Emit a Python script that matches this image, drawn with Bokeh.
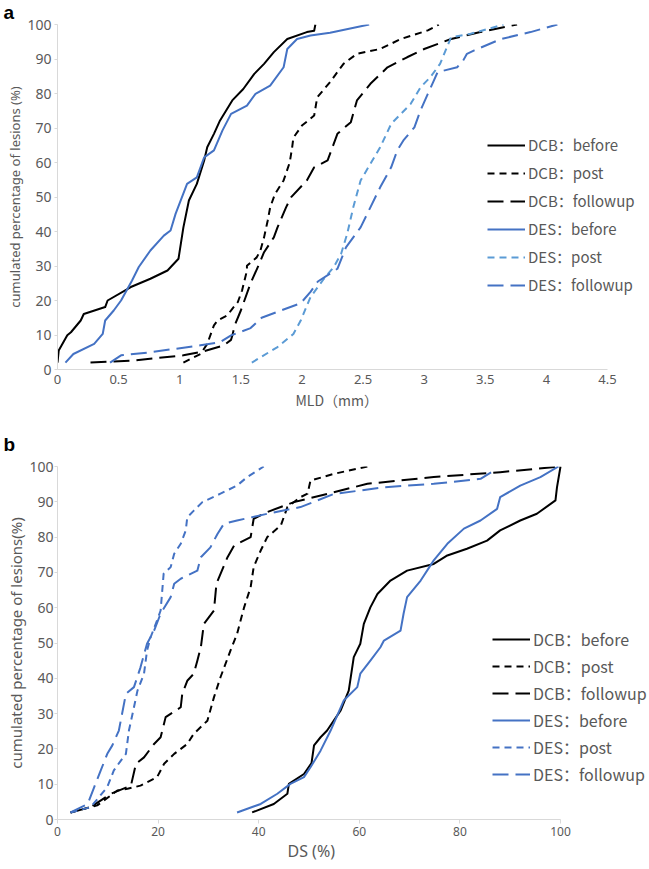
from bokeh.plotting import figure
from bokeh.models import Legend, LegendItem, FixedTicker, Range1d, Title
from bokeh.layouts import column
from bokeh.embed import file_html
from bokeh.resources import INLINE

# ---------------- data: panel a (MLD, mm) ----------------
A_X_TICKS = [0, 0.5, 1, 1.5, 2, 2.5, 3, 3.5, 4, 4.5]
A_X_TICK_LABELS = ["0", "0.5", "1", "1.5", "2", "2.5", "3", "3.5", "4", "4.5"]
Y_TICKS = [0, 10, 20, 30, 40, 50, 60, 70, 80, 90, 100]

A_DCB_BEFORE_X = [0.0, 0.01, 0.08, 0.11, 0.19, 0.215, 0.39, 0.41, 0.60, 0.76, 0.90, 0.99, 1.03, 1.075,
                  1.14, 1.20, 1.225, 1.28, 1.33, 1.43, 1.52, 1.61, 1.69, 1.77, 1.88, 2.04, 2.10, 2.11]
A_DCB_BEFORE_Y = [2, 5.5, 9.9, 10.8, 14.2, 16.1, 18.1, 20, 23.9, 26.3, 28.7, 32.1, 41.2, 49,
                  53.8, 60.6, 64.4, 68.3, 72.2, 78, 81.3, 85.7, 88.6, 92, 95.8, 97.8, 98.2, 100]

A_DCB_POST_X = [1.03, 1.17, 1.225, 1.28, 1.31, 1.39, 1.43, 1.475, 1.51, 1.55, 1.55, 1.63, 1.66, 1.69, 1.72,
                1.74, 1.78, 1.85, 1.90, 1.92, 1.93, 2.00, 2.10, 2.125, 2.23, 2.34, 2.45, 2.64, 2.81, 3.03, 3.12]
A_DCB_POST_Y = [2, 4.5, 7.4, 12.8, 14.2, 15.7, 17.6, 19.5, 22.9, 28.7, 30.1, 32.5, 34.5, 38.3, 43.2,
                47, 50.9, 54.8, 60, 64.4, 67.2, 70.7, 73.6, 78.9, 83.3, 88.6, 91.5, 92.9, 95.8, 98.3, 100]

A_DCB_FOLLOW_X = [0.27, 0.62, 1.03, 1.2, 1.36, 1.42, 1.43, 1.45, 1.50, 1.58, 1.65, 1.69, 1.77, 1.80, 1.87,
                  1.91, 2.04, 2.10, 2.21, 2.29, 2.40, 2.45, 2.56, 2.70, 2.86, 3.00, 3.22, 3.46, 3.76]
A_DCB_FOLLOW_Y = [2, 2.6, 4.1, 5.3, 7, 8.6, 9.8, 12.8, 17.1, 25, 30.6, 34, 38.3, 41.2, 47,
                  49.9, 54.8, 58.6, 60.6, 68.3, 71.7, 78, 82.8, 87.6, 90.5, 92.9, 95.8, 97.8, 100]

A_DES_BEFORE_X = [0.065, 0.13, 0.30, 0.37, 0.39, 0.46, 0.52, 0.61, 0.665, 0.76, 0.87, 0.925, 0.966, 1.06,
                  1.14, 1.20, 1.28, 1.35, 1.42, 1.55, 1.62, 1.74, 1.85, 1.88, 1.96, 2.07, 2.23, 2.55]
A_DES_BEFORE_Y = [2, 4.5, 7.4, 10.3, 14.2, 17.1, 20, 25.8, 29.7, 34.5, 38.8, 40.3, 45.1, 53.8,
                  55.7, 61.5, 63.5, 69.3, 74.1, 76.5, 79.9, 82.3, 87.6, 92.9, 95.8, 96.8, 97.6, 100]

A_DES_POST_X = [1.59, 1.80, 1.93, 1.99, 2.07, 2.13, 2.18, 2.26, 2.32, 2.37, 2.42, 2.48, 2.56, 2.64, 2.73,
                2.81, 2.89, 2.97, 3.05, 3.13, 3.22, 3.38, 3.65]
A_DES_POST_Y = [2, 6.5, 10.3, 14.2, 21, 23.9, 26.3, 29.7, 33.5, 39.3, 47, 54.8, 59.6, 64.4, 71.2,
                74.1, 77, 81.8, 84.7, 88.6, 96.3, 97.3, 100]

A_DES_FOLLOW_X = [0.43, 0.52, 0.76, 1.17, 1.33, 1.42, 1.58, 1.67, 1.82, 1.99, 2.07, 2.13, 2.29, 2.36, 2.48,
                  2.56, 2.64, 2.73, 2.78, 2.83, 2.92, 2.97, 3.03, 3.08, 3.11, 3.27, 3.32, 3.35, 3.41, 3.63,
                  3.87, 4.09]
A_DES_FOLLOW_Y = [2, 4.1, 5, 7, 7.9, 9.9, 12, 15, 17, 19.2, 22.5, 25.5, 29.2, 35.4, 41.2,
                  47, 52.8, 58.6, 63.5, 66.4, 70.2, 75.1, 79.9, 83.8, 86.2, 87.6, 89.6, 91.5, 92.5, 95.8,
                  97.8, 100]

# ---------------- data: panel b (DS, %) ----------------
B_X_TICKS = [0, 20, 40, 60, 80, 100]
B_X_TICK_LABELS = ["0", "20", "40", "60", "80", "100"]

B_DCB_BEFORE_X = [38.7, 43, 45.7, 46, 49, 50.5, 51, 52.3, 53.6, 56.3, 57.9, 58.9, 60.2, 60.9, 62.2, 63.6,
                  66.2, 69.5, 74.8, 77.5, 81.4, 85.4, 88, 92, 95.3, 99, 99.3, 100]
B_DCB_BEFORE_Y = [2, 4.4, 7.3, 10.1, 12.9, 16, 21, 23.3, 25.2, 30.9, 36.5, 46, 49.8, 55.4, 60.1, 63.9,
                  67.7, 70.5, 72.4, 74.8, 76.7, 79, 81.9, 84.7, 86.6, 90.4, 94.1, 100]

B_DCB_POST_X = [2.6, 7.9, 11.9, 13.9, 16.5, 19.8, 21.2, 23.2, 25.8, 27.1, 29.8, 31.1, 32.4, 34.4, 35.7,
                37.1, 38.4, 39, 40.4, 41.7, 44.4, 45.7, 48.3, 49.7, 50.3, 54.9, 61.6]
B_DCB_POST_Y = [2, 4, 8.2, 8.7, 9.6, 12, 15.8, 18.6, 21.4, 24.3, 28, 34.6, 40.3, 47.9, 52.6,
                60.1, 65.8, 71.5, 76.2, 80, 83.3, 88.5, 91.3, 92.3, 96, 97.9, 100]

B_DCB_FOLLOW_X = [2.6, 6.6, 10.6, 14.6, 15.6, 17.2, 19.2, 20.5, 21.5, 24.5, 24.8, 25.8, 27.1, 27.8, 28.5,
                  29.1, 31.1, 31.6, 33.8, 35.1, 38.4, 39, 41.7, 47, 54.9, 61.6, 74.8, 88, 100]
B_DCB_FOLLOW_Y = [2, 3.5, 7.3, 9.6, 15.8, 17.6, 21.4, 23.3, 29, 31.8, 35.6, 39.3, 41.3, 45, 48.8,
                  55.4, 59.2, 66.8, 74.3, 77.6, 80, 85.2, 87.1, 89.9, 92.7, 95.1, 97, 98.4, 100]

B_DES_BEFORE_X = [35.7, 40.4, 43.7, 46.3, 49, 50.3, 52.3, 54.3, 56.9, 59.6, 60.2, 62.2, 64.2, 64.9,
                  68.2, 68.8, 69.5, 72.2, 74.8, 77.5, 80.8, 84.1, 87.4, 88, 92, 96, 99.6]
B_DES_BEFORE_Y = [2, 4.4, 7.3, 10.1, 12, 14.8, 19.5, 25.2, 33.7, 37.5, 41.3, 45, 48.8, 50.7,
                  53.5, 58.3, 63, 67.7, 73.4, 78.1, 82.4, 84.7, 88, 91.3, 94.6, 97, 100]

B_DES_POST_X = [2.6, 6.6, 9.9, 11.2, 12.6, 13.6, 14.2, 15.2, 15.9, 17.2, 17.8, 18.5, 19.8, 20.5, 21.1,
                22.5, 23.2, 24.5, 25.5, 25.8, 27.1, 28.8, 32.4, 35.7, 37.7, 41]
B_DES_POST_Y = [2, 3.5, 9.2, 13.9, 16.7, 18.6, 25.2, 31.8, 36.5, 41.3, 47.9, 51.6, 56.4, 59.2, 69.6,
                71.5, 75.3, 78.1, 81.9, 85.6, 87.5, 89.9, 92.3, 94.6, 97, 100]

B_DES_FOLLOW_X = [2.6, 6.0, 7.3, 8.6, 9.9, 10.9, 12.2, 13.6, 15.2, 16.5, 17.8, 19.2, 20.5, 22.5, 23.2,
                  24.5, 27.8, 28.5, 30.4, 31.8, 33.1, 35.7, 41.7, 48.3, 54.9, 64.9, 74.8, 84.1, 87]
B_DES_FOLLOW_Y = [2, 4.4, 9.2, 13.9, 18.6, 21, 25.2, 35.6, 37.5, 43.1, 49.8, 53.5, 58.3, 63, 66.8,
                  68.2, 70.5, 74.3, 77.1, 80.9, 83.8, 84.7, 86.6, 88.5, 92.2, 94.1, 95.1, 96.5, 99]

LEGEND_LABELS = ["DCB\uff1abefore", "DCB\uff1apost", "DCB\uff1afollowup",
                 "DES\uff1abefore", "DES\uff1apost", "DES\uff1afollowup"]

# ---------------- style ----------------
BLACK = "#000000"
BLUE = "#4472C4"
LIGHT_BLUE = "#5B9BD5"
TEXT = "#595959"
AXIS = "#D9D9D9"
SHORT_DASH = "7 5"
LONG_DASH = "16 7"
FONT = "Noto Sans"
CJK = "Noto Sans CJK SC"

W = 649
BL, BR = 57, 2
FRAME_W = W - BL - BR


def panel(height, top, bottom, x_ticks, x_labels, x_axis_px, x_label, x_label_font_name,
          x_label_offset, x_label_standoff, y_label,
          series, legend_font, legend_loc, legend_spacing, letter, letter_standoff,
          x_tick_out, x_tick_font, x_tick_standoff,
          y_tick_font, y_tick_standoff, y_label_font, y_label_standoff, x_label_font):
    x_max = x_ticks[-1]
    p = figure(width=W, height=height, output_backend="svg", toolbar_location=None,
               x_range=Range1d(0, x_max * FRAME_W / x_axis_px), y_range=Range1d(0, 100),
               min_border_left=BL, min_border_right=BR, min_border_top=top, min_border_bottom=bottom)
    p.outline_line_color = None
    p.xgrid.visible = False
    p.ygrid.visible = False
    p.background_fill_color = "white"

    # panel letter
    p.add_layout(Title(text=letter, align="left", offset=-(BL - 3), standoff=letter_standoff,
                       vertical_align="top", text_font="Liberation Sans", text_font_style="bold",
                       text_font_size="19px", text_color="black"), "above")

    items = []
    for (xs, ys, color, dash), lab in zip(series, LEGEND_LABELS):
        r = p.line(xs, ys, line_color=color, line_width=2, line_dash=dash,
                   line_join="round", line_cap="butt")
        items.append(LegendItem(label=lab, renderers=[r]))

    for ax in (p.xaxis, p.yaxis):
        ax.axis_line_color = AXIS
        ax.major_tick_line_color = AXIS
        ax.minor_tick_line_color = None
        ax.major_tick_in = 0
        ax.major_label_text_color = TEXT
        ax.major_label_text_font = FONT
        ax.axis_label_text_color = TEXT
        ax.axis_label_text_font_style = "normal"

    p.xaxis.bounds = (0, x_max)
    p.xaxis.ticker = FixedTicker(ticks=x_ticks)
    p.xaxis.major_label_overrides = {t: s for t, s in zip(x_ticks, x_labels)}
    p.xaxis.major_tick_out = x_tick_out
    if x_tick_out == 0:
        p.xaxis.major_tick_line_color = None
    p.xaxis.major_label_standoff = x_tick_standoff
    p.xaxis.major_label_text_font_size = x_tick_font

    # x-axis title, positioned under the middle of the drawn axis
    p.add_layout(Title(text=x_label, align="left", offset=x_label_offset, standoff=x_label_standoff,
                       vertical_align="top", text_font=x_label_font_name, text_font_style="normal",
                       text_font_size=x_label_font, text_color=TEXT), "below")

    p.yaxis.bounds = (0, 100)
    p.yaxis.ticker = FixedTicker(ticks=Y_TICKS)
    p.yaxis.major_tick_out = 3
    p.yaxis.major_label_standoff = y_tick_standoff
    p.yaxis.major_label_text_font_size = y_tick_font
    p.yaxis.axis_label = y_label
    p.yaxis.axis_label_text_font = FONT
    p.yaxis.axis_label_text_font_size = y_label_font
    p.yaxis.axis_label_standoff = y_label_standoff

    legend = Legend(items=items, location=legend_loc, padding=0, margin=0,
                    spacing=legend_spacing, glyph_width=38, glyph_height=20, label_height=20,
                    label_standoff=3, label_text_font=CJK, label_text_font_size=legend_font,
                    label_text_color=TEXT, border_line_color=None, background_fill_alpha=0)
    p.add_layout(legend)
    return p


series_a = [
    (A_DCB_BEFORE_X, A_DCB_BEFORE_Y, BLACK, "solid"),
    (A_DCB_POST_X, A_DCB_POST_Y, BLACK, SHORT_DASH),
    (A_DCB_FOLLOW_X, A_DCB_FOLLOW_Y, BLACK, LONG_DASH),
    (A_DES_BEFORE_X, A_DES_BEFORE_Y, BLUE, "solid"),
    (A_DES_POST_X, A_DES_POST_Y, LIGHT_BLUE, SHORT_DASH),
    (A_DES_FOLLOW_X, A_DES_FOLLOW_Y, BLUE, LONG_DASH),
]
series_b = [
    (B_DCB_BEFORE_X, B_DCB_BEFORE_Y, BLACK, "solid"),
    (B_DCB_POST_X, B_DCB_POST_Y, BLACK, SHORT_DASH),
    (B_DCB_FOLLOW_X, B_DCB_FOLLOW_Y, BLACK, LONG_DASH),
    (B_DES_BEFORE_X, B_DES_BEFORE_Y, BLUE, "solid"),
    (B_DES_POST_X, B_DES_POST_Y, BLUE, SHORT_DASH),
    (B_DES_FOLLOW_X, B_DES_FOLLOW_Y, BLUE, LONG_DASH),
]

pa = panel(height=423, top=24, bottom=54, x_ticks=A_X_TICKS, x_labels=A_X_TICK_LABELS, x_axis_px=550,
           x_label="MLD\uff08mm\uff09", x_label_font_name=CJK, x_label_offset=238, x_label_standoff=6,
           y_label="cumulated percentage of lesions (%)",
           series=series_a, legend_font="15px", legend_loc=(430, 74), legend_spacing=7,
           letter="a", letter_standoff=0,
           x_tick_out=0, x_tick_font="13px", x_tick_standoff=5,
           y_tick_font="14px", y_tick_standoff=3, y_label_font="13px", y_label_standoff=0,
           x_label_font="14px")

pb = panel(height=446, top=43, bottom=50, x_ticks=B_X_TICKS, x_labels=B_X_TICK_LABELS, x_axis_px=503,
           x_label="DS (%)", x_label_font_name=FONT, x_label_offset=230, x_label_standoff=2,
           y_label="cumulated percentage of lesions(%)",
           series=series_b, legend_font="16px", legend_loc=(435, 33), legend_spacing=3,
           letter="b", letter_standoff=20,
           x_tick_out=4, x_tick_font="12px", x_tick_standoff=3,
           y_tick_font="14px", y_tick_standoff=1, y_label_font="15px", y_label_standoff=0,
           x_label_font="16px")

layout = column(pa, pb, spacing=0)
open("out.html", "w").write(file_html(layout, INLINE))
